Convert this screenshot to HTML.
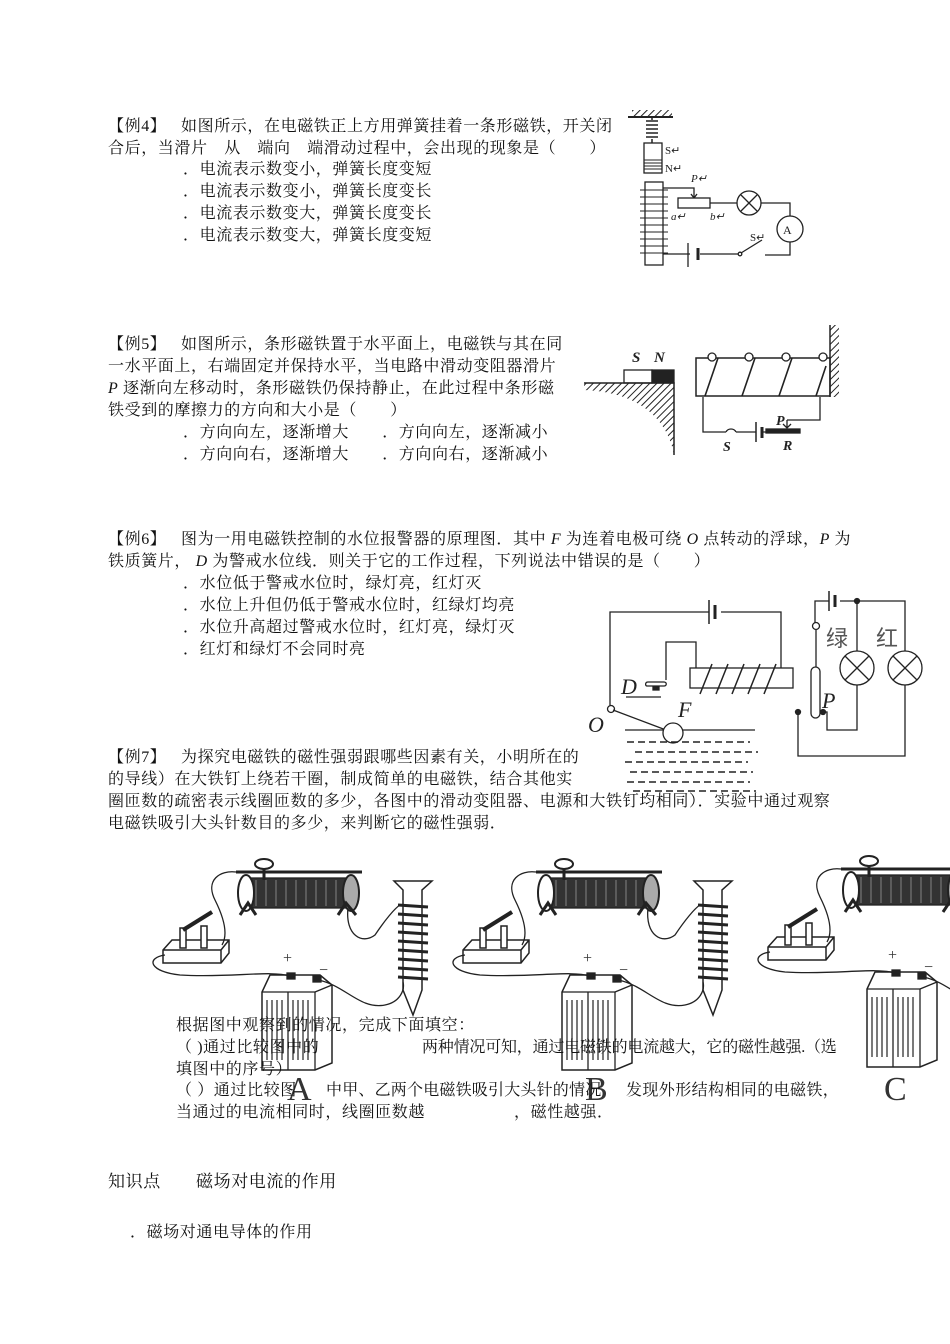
<!DOCTYPE html>
<html><head><meta charset="utf-8">
<style>
body{margin:0;background:#fff;}
#p{position:relative;width:950px;height:1344px;overflow:hidden;background:#fff;}
.l{position:absolute;white-space:nowrap;font-family:"Liberation Serif","Noto Serif CJK SC","Noto Sans CJK SC",serif;font-size:16px;line-height:20px;color:#111;letter-spacing:0.6px;}
.i{font-style:italic;font-family:"Liberation Serif",serif;}
.g{display:inline-block;width:10px;}
svg{position:absolute;left:0;top:0;}
</style></head><body><div id="p">
<svg width="950" height="1344" viewBox="0 0 950 1344" fill="none" stroke="#222" stroke-width="1.3" font-family="Liberation Serif, serif">
<defs>
<pattern id="h" width="5" height="5" patternUnits="userSpaceOnUse" patternTransform="rotate(45)"><line x1="0" y1="0" x2="0" y2="5" stroke="#222" stroke-width="2"/></pattern>
<g id="app">
 <line x1="236" y1="872" x2="362" y2="872" stroke-width="3"/>
 <rect x="250" y="878" width="98" height="30" fill="#333"/>
 <g stroke="#999" stroke-width="0.8"><line x1="256" y1="880" x2="256" y2="906"/><line x1="266" y1="880" x2="266" y2="906"/><line x1="276" y1="880" x2="276" y2="906"/><line x1="286" y1="880" x2="286" y2="906"/><line x1="296" y1="880" x2="296" y2="906"/><line x1="306" y1="880" x2="306" y2="906"/><line x1="316" y1="880" x2="316" y2="906"/><line x1="326" y1="880" x2="326" y2="906"/><line x1="336" y1="880" x2="336" y2="906"/></g>
 <ellipse cx="246" cy="893" rx="8" ry="18" fill="#fff" stroke-width="2"/>
 <ellipse cx="351" cy="893" rx="8" ry="18" fill="#aaa" stroke-width="2"/>
 <ellipse cx="264" cy="864" rx="9" ry="5" fill="#fff" stroke-width="2"/>
 <line x1="264" y1="869" x2="264" y2="880" stroke-width="3"/>
 <path d="M240 915 L248 903 L256 915 M338 915 L346 903 L356 915" stroke-width="3"/>
 <path d="M394 881 L432 881 L422 890 L422 990 L413 1015 L403 990 L403 890 Z" fill="#fff" stroke-width="1.5"/>
 <g stroke-width="3"><line x1="398" y1="905" x2="428" y2="907"/><line x1="398" y1="914" x2="428" y2="916"/><line x1="398" y1="923" x2="428" y2="925"/><line x1="398" y1="932" x2="428" y2="934"/><line x1="398" y1="941" x2="428" y2="943"/><line x1="398" y1="950" x2="428" y2="952"/><line x1="398" y1="959" x2="428" y2="961"/><line x1="398" y1="968" x2="428" y2="970"/><line x1="398" y1="977" x2="428" y2="979"/></g>
 <path d="M163 950 L172 940 L229 940 L229 953 L221 963 L163 963 Z M163 950 L221 950 L229 940 M221 950 L221 963" fill="#fff" stroke-width="1.5"/>
 <rect x="180" y="928" width="6" height="20" fill="#fff" stroke-width="1.5"/>
 <rect x="201" y="926" width="6" height="22" fill="#fff" stroke-width="1.5"/>
 <line x1="183" y1="930" x2="212" y2="912" stroke-width="4"/>
 <path d="M270 975 L320 975 L332 985 L332 1063 L315 1070 L262 1070 L262 992 Z" fill="#fff" stroke-width="1.5"/>
 <line x1="288" y1="992" x2="288" y2="1070"/><line x1="315" y1="992" x2="315" y2="1070"/><line x1="262" y1="992" x2="315" y2="992"/><line x1="315" y1="992" x2="332" y2="985"/>
 <g stroke-width="1.2"><line x1="267" y1="1000" x2="267" y2="1060"/><line x1="272" y1="1000" x2="272" y2="1060"/><line x1="277" y1="1000" x2="277" y2="1060"/><line x1="282" y1="1000" x2="282" y2="1060"/><line x1="293" y1="1000" x2="293" y2="1060"/><line x1="298" y1="1000" x2="298" y2="1060"/><line x1="303" y1="1000" x2="303" y2="1060"/><line x1="308" y1="1000" x2="308" y2="1060"/></g>
 <rect x="287" y="973" width="8" height="6" fill="#222"/><rect x="313" y="976" width="8" height="6" fill="#222"/>
 <text x="283" y="963" font-size="16" fill="#333" stroke="none">+</text>
 <text x="319" y="975" font-size="16" fill="#333" stroke="none">−</text>
 <path d="M236 872 C220 870 205 880 215 900 C225 920 228 935 222 945"/>
 <path d="M165 955 C145 958 150 972 180 975 C230 978 270 970 290 976"/>
 <path d="M348 908 C345 935 362 945 375 935 C385 920 395 908 400 905"/>
 <path d="M318 980 C345 985 360 1010 385 1005 C400 1002 405 990 403 982"/>
</g>
</defs>

<line x1="628" y1="117" x2="673" y2="117" stroke-width="2"/>
<rect x="632" y="110" width="40" height="7" fill="url(#h)" stroke="none"/>
<path d="M652 117 v3 M646 121 h12 M646 125 h12 M646 129 h12 M646 133 h12 M646 137 h12 M652 139 v4" stroke-width="1.5"/>
<rect x="644" y="143" width="18" height="30" fill="#fff"/>
<g stroke-width="1"><line x1="644" y1="160" x2="662" y2="160"/><line x1="644" y1="163" x2="662" y2="163"/><line x1="644" y1="166" x2="662" y2="166"/><line x1="644" y1="169" x2="662" y2="169"/></g>
<text x="665" y="154" font-size="11" fill="#222" stroke="none">S↵</text>
<text x="665" y="172" font-size="11" fill="#222" stroke="none">N↵</text>
<rect x="645" y="182" width="18" height="83" fill="#fff"/>
<g stroke-width="1"><path d="M640 190 h28 M640 197 h28 M640 204 h28 M640 211 h28 M640 218 h28 M640 225 h28 M640 232 h28 M640 239 h28 M640 246 h28 M640 253 h28"/></g>
<path d="M663 188 H694 V198"/><path d="M691 194 L694 198 L697 194" />
<text x="691" y="182" font-size="11" font-style="italic" fill="#222" stroke="none">P↵</text>
<rect x="678" y="198" width="32" height="10" fill="#fff"/>
<text x="671" y="220" font-size="11" font-style="italic" fill="#222" stroke="none">a↵</text>
<text x="710" y="220" font-size="11" font-style="italic" fill="#222" stroke="none">b↵</text>
<path d="M710 203 H737 M761 203 H790 V216 M790 242 V255 H765"/>
<circle cx="749" cy="203" r="12"/><path d="M741 195 L757 211 M757 195 L741 211"/>
<circle cx="790" cy="229" r="13"/><text x="783" y="234" font-size="12" fill="#222" stroke="none">A</text>
<path d="M741 253 L762 240"/><circle cx="740" cy="254" r="1.8" fill="#fff"/>
<text x="750" y="241" font-size="11" fill="#222" stroke="none">S↵</text>
<path d="M738 254 H700 M690 254 H663"/><line x1="688" y1="243" x2="688" y2="267"/><line x1="698" y1="248" x2="698" y2="260" stroke-width="3"/>

<text x="632" y="362" font-size="15" font-weight="bold" font-style="italic" fill="#222" stroke="none">S</text>
<text x="654" y="362" font-size="15" font-weight="bold" font-style="italic" fill="#222" stroke="none">N</text>
<rect x="624" y="370" width="28" height="13" fill="#fff"/>
<rect x="652" y="370" width="22" height="13" fill="#222"/>
<path d="M584 383 H674 V455" stroke-width="1.5"/>
<path d="M584 383 H674 V455 C668 420 640 392 584 390 Z" fill="url(#h)" stroke="none"/>
<rect x="696" y="358" width="134" height="38" fill="#fff" stroke-width="1.5"/>
<g stroke-width="1.6"><path d="M705 396 L718 358 M742 396 L755 358 M779 396 L792 358 M816 396 L826 366"/></g>
<g fill="#fff"><circle cx="712" cy="357" r="4"/><circle cx="749" cy="357" r="4"/><circle cx="786" cy="357" r="4"/><circle cx="823" cy="357" r="4"/></g>
<line x1="830" y1="325" x2="830" y2="397" stroke-width="1.5"/>
<rect x="830" y="325" width="9" height="72" fill="url(#h)" stroke="none"/>
<path d="M703 397 V432 H726 M736 432 H756 M762 432 H773 M820 397 V420 H787"/>
<path d="M726 432 C728 428 734 428 736 432"/>
<line x1="756" y1="422" x2="756" y2="442" stroke-width="1.5"/><line x1="762" y1="427" x2="762" y2="438" stroke-width="3"/>
<rect x="766" y="429" width="34" height="4" fill="#222"/>
<path d="M787 420 V428 M783 424 L787 428 L791 424"/>
<text x="776" y="425" font-size="14" font-weight="bold" font-style="italic" fill="#222" stroke="none">P</text>
<text x="723" y="451" font-size="14" font-weight="bold" font-style="italic" fill="#222" stroke="none">S</text>
<text x="783" y="450" font-size="14" font-weight="bold" font-style="italic" fill="#222" stroke="none">R</text>

<path d="M610 705 V612 H709 M721 612 H781 V668" stroke-width="1.3"/>
<line x1="709" y1="600" x2="709" y2="624" stroke-width="1.5"/><line x1="715" y1="605" x2="715" y2="619" stroke-width="3"/>
<circle cx="611" cy="709" r="3.5" fill="#fff"/>
<text x="588" y="732" font-size="22" font-style="italic" fill="#222" stroke="none">O</text>
<rect x="690" y="668" width="103" height="20" fill="#fff" stroke-width="1.3"/>
<g stroke-width="1.5"><path d="M700 694 L712 664 M716 694 L728 664 M732 694 L744 664 M748 694 L760 664 M764 694 L776 664"/></g>
<path d="M696 668 V642 H666 V680"/>
<path d="M647 686 H664 C667 686 667 682 664 682 H648 C645 682 645 686 647 686 Z" fill="#fff"/>
<rect x="653" y="687" width="6" height="3" fill="#222"/>
<line x1="626" y1="697" x2="661" y2="697"/>
<text x="621" y="694" font-size="22" font-style="italic" fill="#222" stroke="none">D</text>
<text x="678" y="717" font-size="22" font-style="italic" fill="#222" stroke="none">F</text>
<line x1="613" y1="710" x2="666" y2="730"/>
<line x1="625" y1="730" x2="755" y2="730"/>
<circle cx="673" cy="733" r="10" fill="#fff"/>
<g stroke-width="1.5" stroke-dasharray="7,4"><line x1="627" y1="742" x2="750" y2="742"/><line x1="635" y1="752" x2="758" y2="752"/><line x1="625" y1="762" x2="748" y2="762"/><line x1="630" y1="772" x2="753" y2="772"/><line x1="627" y1="782" x2="750" y2="782"/><line x1="633" y1="791" x2="756" y2="791"/></g>
<path d="M815 623 V601 H829 M840 601 H857 H905 V651 M857 601 V651"/>
<line x1="829" y1="591" x2="829" y2="611" stroke-width="1.5"/><line x1="835" y1="595" x2="835" y2="607" stroke-width="3"/>
<circle cx="857" cy="601" r="2.5" fill="#222"/>
<circle cx="816" cy="626" r="3.5" fill="#fff"/>
<line x1="816" y1="630" x2="816" y2="667"/>
<rect x="811" y="667" width="9" height="51" rx="4.5" fill="#fff"/>
<circle cx="857" cy="668" r="17"/><path d="M845 656 L869 680 M869 656 L845 680"/>
<circle cx="905" cy="668" r="17"/><path d="M893 656 L917 680 M917 656 L893 680"/>
<path d="M857 685 V730 H827 V712 H820 M905 685 V756 H798 V712"/>
<circle cx="798" cy="712" r="2.5" fill="#222"/><circle cx="823" cy="712" r="2.5" fill="#222"/>
<text x="826" y="646" font-size="22" fill="#555" stroke="none" font-family="Noto Sans CJK SC, sans-serif">绿</text>
<text x="876" y="646" font-size="22" fill="#555" stroke="none" font-family="Noto Sans CJK SC, sans-serif">红</text>
<text x="822" y="708" font-size="22" font-style="italic" fill="#222" stroke="none">P</text>

<use href="#app"/>
<use href="#app" transform="translate(300,0)"/>
<use href="#app" transform="translate(605,-3)"/>
<text x="287" y="1100" font-size="34" fill="#333" stroke="none">A</text>
<text x="585" y="1100" font-size="34" fill="#333" stroke="none">B</text>
<text x="884" y="1100" font-size="34" fill="#333" stroke="none">C</text>
</svg>

<div class="l" style="left:108px;top:117px">【例4】<span class="g"></span> 如图所示，在电磁铁正上方用弹簧挂着一条形磁铁，开关闭</div>
<div class="l" style="left:108px;top:139px">合后，当滑片　从　端向　端滑动过程中，会出现的现象是（　　）</div>
<div class="l" style="left:183px;top:160px">．电流表示数变小，弹簧长度变短</div>
<div class="l" style="left:183px;top:182px">．电流表示数变小，弹簧长度变长</div>
<div class="l" style="left:183px;top:204px">．电流表示数变大，弹簧长度变长</div>
<div class="l" style="left:183px;top:226px">．电流表示数变大，弹簧长度变短</div>

<div class="l" style="left:108px;top:335px">【例5】<span class="g"></span> 如图所示，条形磁铁置于水平面上，电磁铁与其在同</div>
<div class="l" style="left:108px;top:357px">一水平面上，右端固定并保持水平，当电路中滑动变阻器滑片</div>
<div class="l" style="left:108px;top:379px"><span class="i">P</span> 逐渐向左移动时，条形磁铁仍保持静止，在此过程中条形磁</div>
<div class="l" style="left:108px;top:401px">铁受到的摩擦力的方向和大小是（　　）</div>
<div class="l" style="left:183px;top:423px">．方向向左，逐渐增大　　．方向向左，逐渐减小</div>
<div class="l" style="left:183px;top:445px">．方向向右，逐渐增大　　．方向向右，逐渐减小</div>

<div class="l" style="left:108px;top:530px">【例6】<span class="g"></span> 图为一用电磁铁控制的水位报警器的原理图．其中 <span class="i">F</span> 为连着电极可绕 <span class="i">O</span> 点转动的浮球，<span class="i">P</span> 为</div>
<div class="l" style="left:108px;top:552px">铁质簧片， <span class="i">D</span> 为警戒水位线．则关于它的工作过程，下列说法中错误的是（　　）</div>
<div class="l" style="left:183px;top:574px">．水位低于警戒水位时，绿灯亮，红灯灭</div>
<div class="l" style="left:183px;top:596px">．水位上升但仍低于警戒水位时，红绿灯均亮</div>
<div class="l" style="left:183px;top:618px">．水位升高超过警戒水位时，红灯亮，绿灯灭</div>
<div class="l" style="left:183px;top:640px">．红灯和绿灯不会同时亮</div>

<div class="l" style="left:108px;top:748px">【例7】<span class="g"></span> 为探究电磁铁的磁性强弱跟哪些因素有关，小明所在的</div>
<div class="l" style="left:108px;top:770px">的导线）在大铁钉上绕若干圈，制成简单的电磁铁，结合其他实</div>
<div class="l" style="left:108px;top:792px">圈匝数的疏密表示线圈匝数的多少，各图中的滑动变阻器、电源和大铁钉均相同）．实验中通过观察</div>
<div class="l" style="left:108px;top:814px">电磁铁吸引大头针数目的多少，来判断它的磁性强弱．</div>

<div class="l" style="left:176px;top:1016px">根据图中观察到的情况，完成下面填空：</div>
<div class="l" style="left:176px;top:1038px">（ )通过比较图中的</div>
<div class="l" style="left:422px;top:1038px;letter-spacing:-0.2px">两种情况可知，通过电磁铁的电流越大，它的磁性越强.（选</div>
<div class="l" style="left:176px;top:1060px">填图中的序号）</div>
<div class="l" style="left:176px;top:1081px">（ ）通过比较图</div>
<div class="l" style="left:326px;top:1081px;letter-spacing:0.2px">中甲、乙两个电磁铁吸引大头针的情况</div>
<div class="l" style="left:626px;top:1081px;letter-spacing:0.4px">发现外形结构相同的电磁铁，</div>
<div class="l" style="left:176px;top:1103px">当通过的电流相同时，线圈匝数越</div>
<div class="l" style="left:514px;top:1103px">，磁性越强．</div>

<div class="l" style="left:108px;top:1172px;font-size:17px">知识点　　磁场对电流的作用</div>
<div class="l" style="left:130px;top:1223px">．磁场对通电导体的作用</div>
</div></body></html>
